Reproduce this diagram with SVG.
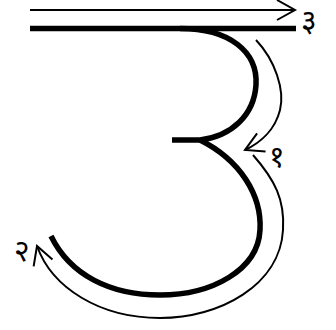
<svg xmlns="http://www.w3.org/2000/svg" width="336" height="330" viewBox="0 0 336 330">
<style>
.thick{fill:none;stroke:#000;stroke-width:5.5;stroke-linecap:butt}
.thin{fill:none;stroke:#000;stroke-width:2}
.lbl{font-family:"Noto Sans Devanagari","Noto Sans",sans-serif;font-size:30px;fill:#000}
</style>
<defs>
<marker id="ah" markerUnits="userSpaceOnUse" viewBox="-22 -12 24 24" refX="0" refY="0" markerWidth="24" markerHeight="24" orient="auto" overflow="visible">
<path d="M-18,-10 L0,0 L-18,10" fill="none" stroke="#000" stroke-width="2"/>
</marker>
</defs>
<g id="letter">
<path class="thick" d="M30,28.5 H296"/>
<path class="thick" d="M180,28.5 C230,28.5 258,52 256,85 C254,115 232,136 200,140 H172"/>
<path class="thick" d="M200,140 C240,160 262,195 260,230 C258,270 212,295 160,295 C110,295 70,275 51,236"/>
</g>
<g id="connectors">
<path class="thin" d="M30,10 H295" marker-end="url(#ah)"/>
<path class="thin" d="M256,40 C275,60 285,90 280,110 C275,130 260,143 245,150" marker-end="url(#ah)"/>
<path class="thin" d="M253,155 C275,180 285,200 283,230 C280,285 220,318 160,318 C100,318 52,288 37,246" marker-end="url(#ah)"/>
</g>
<g id="labels">
<text class="lbl" x="301" y="31">३</text>
<text class="lbl" x="269" y="167">१</text>
<text class="lbl" x="14" y="261">२</text>
</g>
</svg>
